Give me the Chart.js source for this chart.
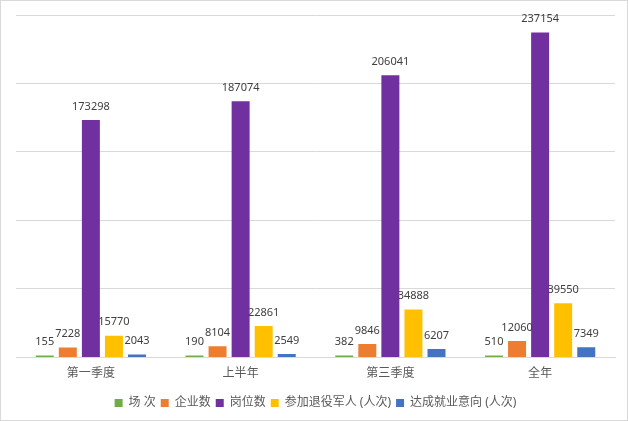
<!DOCTYPE html>
<html>
<head>
<meta charset="utf-8">
<script src="https://cdn.jsdelivr.net/npm/chart.js@4"></script>
<style>
  html, body { margin: 0; padding: 0; background: #fff; }
  #wrap {
    width: 628px; height: 421px; box-sizing: border-box;
    border: 1px solid #d9d9d9; background: #fff;
  }
  #chart { display: block; }
</style>
</head>
<body>
<div id="wrap"><canvas id="chart" width="626" height="419"></canvas></div>
<script>
// Chart data
const categories = ["第一季度", "上半年", "第三季度", "全年"];
const sessions = [155, 190, 382, 510];
const companies = [7228, 8104, 9846, 12060];
const jobs = [173298, 187074, 206041, 237154];
const veterans = [15770, 22861, 34888, 39550];
const agreements = [2043, 2549, 6207, 7349];

const FONT = '"Noto Sans", "Noto Sans CJK SC", sans-serif';

// draws the value above every bar
const valueLabels = {
  id: "valueLabels",
  afterDatasetsDraw(chart) {
    const ctx = chart.ctx;
    ctx.save();
    ctx.font = "11px " + FONT;
    ctx.fillStyle = "#404040";
    ctx.textAlign = "center";
    ctx.textBaseline = "bottom";
    chart.data.datasets.forEach((ds, i) => {
      const meta = chart.getDatasetMeta(i);
      meta.data.forEach((bar, j) => {
        ctx.fillText(String(ds.data[j]), bar.x, bar.y - 8);
      });
    });
    ctx.restore();
  }
};

function makeSet(label, data, color) {
  return {
    label: label,
    data: data,
    backgroundColor: color,
    borderWidth: 0,
    minBarLength: 2,
    categoryPercentage: 0.77,
    barPercentage: 0.78
  };
}

new Chart(document.getElementById("chart"), {
  type: "bar",
  data: {
    labels: categories,
    datasets: [
      makeSet("场 次", sessions, "#70ad47"),
      makeSet("企业数", companies, "#ed7d31"),
      makeSet("岗位数", jobs, "#7030a0"),
      makeSet("参加退役军人 (人次)", veterans, "#ffc000"),
      makeSet("达成就业意向 (人次)", agreements, "#4472c4")
    ]
  },
  options: {
    responsive: false,
    animation: false,
    layout: { padding: { left: 15, right: 12, top: 14, bottom: 1 } },
    scales: {
      x: {
        grid: { display: false },
        border: { color: "#d9d9d9" },
        ticks: { color: "#595959", font: { size: 12, family: FONT }, padding: 1 }
      },
      y: {
        min: 0,
        max: 250000,
        ticks: { display: false, stepSize: 50000 },
        grid: { color: "#d9d9d9", drawTicks: false },
        border: { display: false }
      }
    },
    plugins: {
      legend: {
        position: "bottom",
        // empty title only used as a spacer above the legend items
        title: { display: true, text: "", font: { size: 1 }, padding: { top: 0, bottom: 9 } },
        labels: {
          boxWidth: 8,
          boxHeight: 8,
          padding: 5,
          color: "#595959",
          font: { size: 12, family: FONT }
        }
      },
      tooltip: { enabled: false }
    }
  },
  plugins: [valueLabels]
});
</script>
</body>
</html>
